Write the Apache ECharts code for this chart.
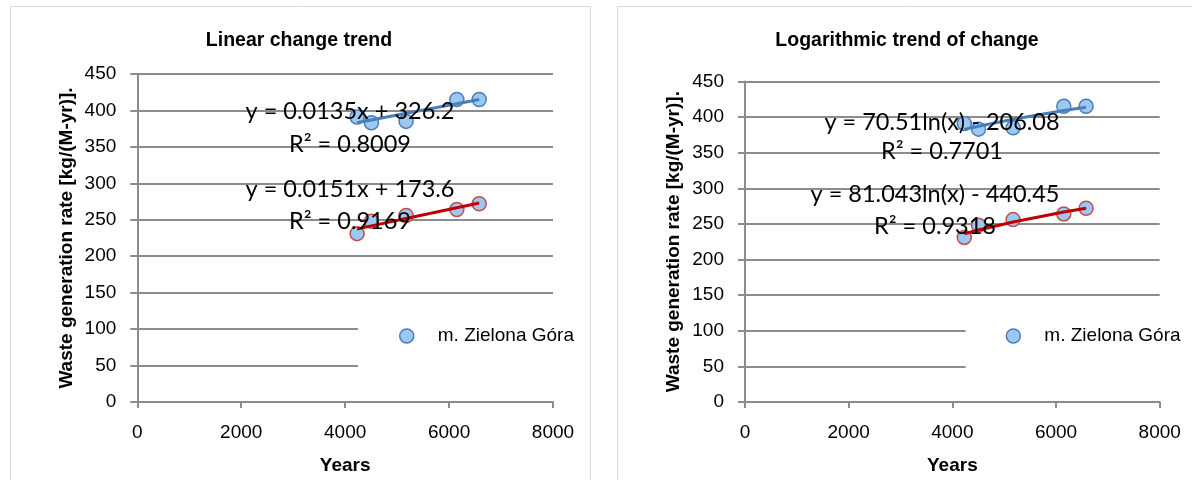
<!DOCTYPE html>
<html>
<head>
<meta charset="utf-8">
<script src="https://cdn.jsdelivr.net/npm/echarts@6/dist/echarts.min.js"></script>
<style>
  html, body { margin: 0; padding: 0; background: #fff; }
  #chart { width: 1192px; height: 480px; }
</style>
</head>
<body>
<div id="chart"></div>
<script>
// ---- data ----
const years = [4230, 4505, 5172, 6150, 6580];
const rateBlue = [391, 383, 385, 415, 415];
const rateRed = [231, 248, 256, 264, 272];
const xTicks = [0, 2000, 4000, 6000, 8000];
const yTicks = [0, 50, 100, 150, 200, 250, 300, 350, 400, 450];
const seriesName = 'm. Zielona Góra';
const titles = ['Linear change trend', 'Logarithmic trend of change'];
// trendline coefficients as printed on the chart
const linBlue = [0.0135, 326.2];
const linRed = [0.0151, 173.6];
const logBlue = [70.51, -206.08];
const logRed = [81.043, -440.45];
const eqLeft = ['y = 0.0135x + 326.2', 'R² = 0.8009', 'y = 0.0151x + 173.6', 'R² = 0.9169'];
const eqRight = ['y = 70.51ln(x) - 206.08', 'R² = 0.7701', 'y = 81.043ln(x) - 440.45', 'R² = 0.9318'];

const FONT = "'Liberation Sans', Arial, sans-serif";
const EQFONT = "Lato, 'Open Sans', sans-serif";
const GRIDC = '#8c8c8c';

const pts = (ys) => years.map((x, i) => [x, ys[i]]);
const linTrend = (c) => years.map(x => [x, c[0] * x + c[1]]);
const logTrend = (c) => years.map(x => [x, c[0] * Math.log(x) + c[1]]);

function xAxis(gi) {
  return {
    gridIndex: gi, type: 'value', min: 0, max: 8000, interval: 2000,
    name: 'Years', nameLocation: 'middle', nameGap: 54,
    nameTextStyle: { fontFamily: FONT, fontWeight: 'bold', fontSize: 19, color: '#000' },
    axisLine: { show: true, lineStyle: { color: GRIDC, width: 2 } },
    axisTick: { show: true, length: 6, lineStyle: { color: GRIDC, width: 2 } },
    axisLabel: { margin: 21, fontFamily: FONT, fontSize: 19, color: '#000',
      formatter: v => xTicks.includes(v) ? String(v) : '' },
    splitLine: { show: false }
  };
}
function yAxis(gi, gap) {
  return {
    gridIndex: gi, type: 'value', min: 0, max: 450, interval: 50,
    name: 'Waste generation rate [kg/(M-yr)].', nameLocation: 'middle', nameGap: gap,
    nameTextStyle: { fontFamily: FONT, fontWeight: 'bold', fontSize: 19, color: '#000' },
    axisLine: { show: true, lineStyle: { color: GRIDC, width: 2 } },
    axisTick: { show: true, length: 7, lineStyle: { color: GRIDC, width: 2 } },
    axisLabel: { margin: 21, fontFamily: FONT, fontSize: 19, color: '#000',
      formatter: v => yTicks.includes(v) ? String(v) : '' },
    splitLine: { show: true, lineStyle: { color: GRIDC, width: 2 } }
  };
}
function scatter(gi, ys, border, name) {
  return {
    type: 'scatter', name: name, xAxisIndex: gi, yAxisIndex: gi, data: pts(ys),
    symbol: 'circle', symbolSize: 14, z: 2,
    itemStyle: { color: '#9cc8f4', borderColor: border, borderWidth: 1.5, opacity: 1 }
  };
}
function trend(gi, data, color) {
  return {
    type: 'line', name: 'trend', xAxisIndex: gi, yAxisIndex: gi, data: data,
    showSymbol: false, symbol: 'none', z: 3, silent: true,
    lineStyle: { color: color, width: 3 }
  };
}
function legend(left, padLeft, padRight) {
  return {
    data: [seriesName], left: left, top: 306, orient: 'horizontal',
    padding: [20, padRight, 30, padLeft], backgroundColor: '#fff',
    icon: 'circle', itemWidth: 52, itemHeight: 14,
    itemStyle: { color: '#9cc8f4', borderColor: '#4a7ebb', borderWidth: 1.5 },
    textStyle: { fontFamily: FONT, fontSize: 19, color: '#000', lineHeight: 20 },
    selectedMode: false
  };
}
function txt(s, x, y, font, size, weight) {
  return { type: 'text', x: x, y: y, z: 100, silent: true,
    style: { text: s, fontFamily: font, fontSize: size, fontWeight: weight || 'normal',
      fill: '#000', align: 'center', verticalAlign: 'middle' } };
}

const option = {
  animation: false,
  backgroundColor: '#fff',
  grid: [
    { left: 137.3, top: 74, width: 415.7, height: 329.3 },
    { left: 745, top: 81.4, width: 414.7, height: 323.2 }
  ],
  xAxis: [xAxis(0), xAxis(1)],
  yAxis: [yAxis(0, 61), yAxis(1, 62)],
  legend: [legend(358, 41, 8), legend(965.6, 40, 8)],
  series: [
    scatter(0, rateBlue, '#4a7ebb', seriesName),
    scatter(0, rateRed, '#c0504d', 'm. Zielona Góra (2)'),
    trend(0, linTrend(linBlue), '#4a7ebb'),
    trend(0, linTrend(linRed), '#c00000'),
    scatter(1, rateBlue, '#4a7ebb', seriesName),
    scatter(1, rateRed, '#c0504d', 'm. Zielona Góra (2)'),
    trend(1, logTrend(logBlue), '#4a7ebb'),
    trend(1, logTrend(logRed), '#c00000')
  ],
  graphic: [
    { type: 'rect', z: 50, silent: true, shape: { x: 10.5, y: 6.5, width: 580, height: 520 },
      style: { fill: 'none', stroke: '#d9d9d9', lineWidth: 1 } },
    { type: 'rect', z: 50, silent: true, shape: { x: 617.5, y: 6.5, width: 620, height: 520 },
      style: { fill: 'none', stroke: '#d9d9d9', lineWidth: 1 } },
    txt(titles[0], 299, 41, FONT, 19.5, 'bold'),
    txt(titles[1], 907, 41, FONT, 19.5, 'bold'),
    txt(eqLeft[0], 350, 111, EQFONT, 23.5),
    txt(eqLeft[1], 350, 144, EQFONT, 23.5),
    txt(eqLeft[2], 350, 189, EQFONT, 23.5),
    txt(eqLeft[3], 350, 221, EQFONT, 23.5),
    txt(eqRight[0], 942, 122, EQFONT, 23.5),
    txt(eqRight[1], 942, 151, EQFONT, 23.5),
    txt(eqRight[2], 935, 194, EQFONT, 23.5),
    txt(eqRight[3], 935, 226, EQFONT, 23.5)
  ]
};

const chart = echarts.init(document.getElementById('chart'), null, { renderer: 'canvas' });
chart.setOption(option);
</script>
</body>
</html>
